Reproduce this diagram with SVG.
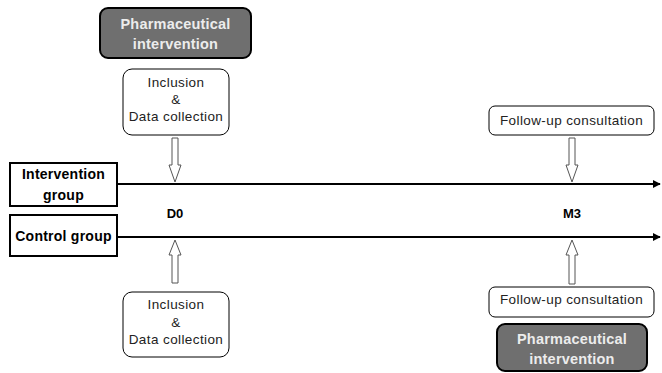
<svg xmlns="http://www.w3.org/2000/svg" width="662" height="373" viewBox="0 0 662 373">
<defs>
<style>
.pi rect{fill:#6f6f6f;stroke:#000;stroke-width:2}
.pi text{fill:#ececec;font-family:"Liberation Sans",Arial,sans-serif;font-weight:bold;font-size:14.5px;letter-spacing:0.2px;text-anchor:middle}
.wb rect{fill:#fff;stroke:#000;stroke-width:1}
.wb text{fill:#222;font-family:"Liberation Sans",Arial,sans-serif;font-size:13.5px;letter-spacing:0.4px;text-anchor:middle}
.grp rect{fill:#fff;stroke:#000;stroke-width:2}
.grp text{fill:#000;font-family:"Liberation Sans",Arial,sans-serif;font-weight:bold;font-size:14px;letter-spacing:0.25px;text-anchor:middle}
.lbl{fill:#000;font-family:"Liberation Sans",Arial,sans-serif;font-weight:bold;font-size:13px;text-anchor:middle}
.tl{stroke:#000;stroke-width:2;fill:none}
.ha{fill:#fff;stroke:#555;stroke-width:1}
</style>
<marker id="ah" viewBox="0 0 10 10" refX="9" refY="5" markerWidth="4" markerHeight="4" orient="auto" markerUnits="strokeWidth">
<path d="M0,0 L10,5 L0,10 z" fill="#000"/>
</marker>
</defs>
<g id="pharma-top" class="pi"><rect x="100" y="8" width="151" height="50" rx="8"/><text x="175.5" y="29">Pharmaceutical</text><text x="175.5" y="49">intervention</text></g>
<g id="inclusion-top" class="wb"><rect x="123" y="69" width="106" height="66" rx="9"/><text x="176" y="87">Inclusion</text><text x="176" y="104">&amp;</text><text x="176" y="121">Data collection</text></g>
<g id="followup-top" class="wb"><rect x="489" y="106" width="165" height="29" rx="6"/><text x="571.5" y="125">Follow-up  consultation</text></g>
<g id="intervention-group" class="grp"><rect x="10" y="163" width="107" height="43"/><text x="63.5" y="179">Intervention</text><text x="63.5" y="200">group</text></g>
<g id="control-group" class="grp"><rect x="10" y="215" width="107" height="41"/><text x="63.5" y="241">Control group</text></g>
<g id="d0"><text class="lbl" x="175" y="218">D0</text></g>
<g id="m3"><text class="lbl" x="572" y="218">M3</text></g>
<g id="inclusion-bottom" class="wb"><rect x="123" y="292" width="106" height="65" rx="9"/><text x="176" y="309">Inclusion</text><text x="176" y="327">&amp;</text><text x="176" y="344">Data collection</text></g>
<g id="followup-bottom" class="wb"><rect x="489" y="287" width="165" height="30" rx="6"/><text x="571.5" y="304">Follow-up  consultation</text></g>
<g id="pharma-bottom" class="pi"><rect x="497" y="324" width="150" height="47" rx="8"/><text x="572" y="344">Pharmaceutical</text><text x="572" y="364">intervention</text></g>
<g id="connectors">
<line class="tl" x1="117" y1="184" x2="660" y2="184" marker-end="url(#ah)"/>
<line class="tl" x1="117" y1="237" x2="660" y2="237" marker-end="url(#ah)"/>
<path class="ha" d="M172,138 H178 V165 H181 L175,182 L169,165 H172 Z"/>
<path class="ha" d="M172,283 H178 V255 H181 L175,240 L169,255 H172 Z"/>
<path class="ha" d="M569,138 H575 V165 H578 L572,182 L566,165 H569 Z"/>
<path class="ha" d="M569,284 H575 V255 H578 L572,240 L566,255 H569 Z"/>
</g>
</svg>
